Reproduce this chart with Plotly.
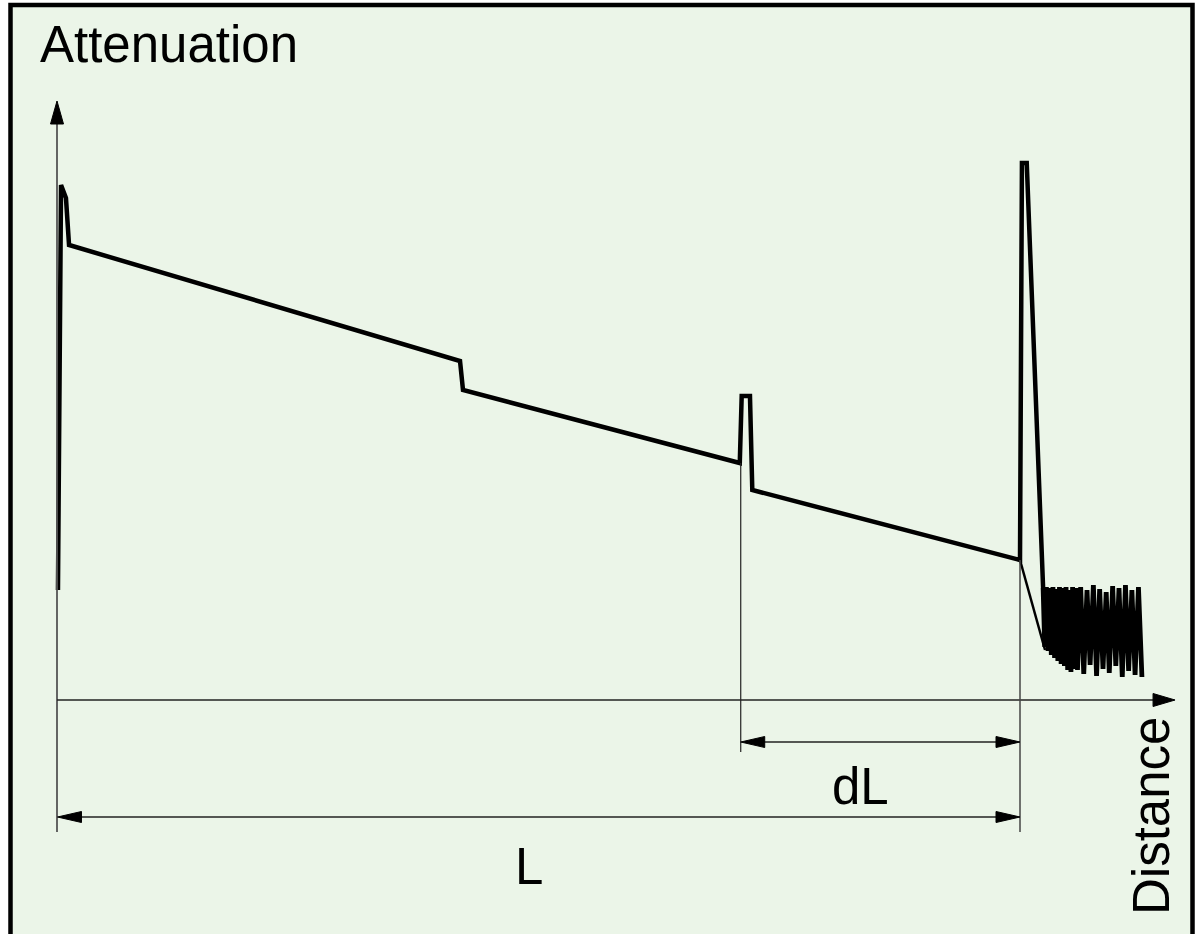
import plotly.graph_objects as go

# ---------------- data (distance in km, attenuation in dB) ----------------
trace_distance = [0.10, 0.42, 0.93, 1.25, 41.85, 42.16, 70.90, 71.10, 71.96, 72.20,
                  100.00, 100.20, 100.70]
trace_atten = [11.0, 51.5, 50.2, 45.5, 33.9, 31.0, 23.7, 30.4, 30.4, 21.0,
               14.0, 53.7, 53.7]

# fall-off line from the fibre end into the noise floor
falloff_distance = [100.0, 102.6]
falloff_atten = [14.0, 5.0]

# noise floor after the fibre end (alternating peaks / troughs)
noise_distance = [102.40, 102.57, 102.74, 102.91, 103.08, 103.25, 103.42, 103.59,
                  103.76, 103.93, 104.10, 104.27, 104.44, 104.61, 104.78, 104.95,
                  105.12, 105.29, 105.46, 105.63, 105.80,
                  105.97, 106.30, 106.62, 106.96, 107.28, 107.62, 107.95, 108.27,
                  108.62, 108.95, 109.27, 109.62, 109.95, 110.28, 110.62, 110.95,
                  111.28, 111.62, 111.95, 112.30, 112.66]
noise_atten = [11.2, 5.3, 11.3, 4.9, 11.2, 4.5, 11.3, 4.2, 11.1, 3.9, 11.3, 3.6,
               11.2, 3.4, 11.3, 3.0, 11.0, 2.8, 11.3, 3.1, 11.2,
               3.0, 11.3, 2.6, 11.0, 3.5, 11.5, 2.4, 11.1, 3.1, 10.8, 2.7, 11.4,
               3.4, 11.2, 2.3, 11.5, 2.9, 11.0, 2.5, 11.3, 2.3]

# key positions
event_distance = 71.0     # reflective event (start of dL)
end_distance = 100.0      # fibre end (L)
x_axis_end = 116.1
y_axis_end = 59.9
dl_level = -4.2
l_level = -11.7
dl_line_bottom = -5.2
l_line_bottom = -13.2

label_attenuation = "Attenuation"
label_distance = "Distance"
label_dl = "dL"
label_l = "L"

# ---------------- layout constants ----------------
W, H = 1195, 934
SX, SY = 9.63, 10.0      # px per data unit
OX, OY = 57.0, 700.0     # px of origin
BG = "#EBF5E8"

fig = go.Figure()
fig.add_trace(go.Scatter(x=trace_distance + noise_distance[:1],
                         y=trace_atten + noise_atten[:1],
                         mode="lines", line=dict(color="black", width=4.5),
                         hoverinfo="skip", showlegend=False))
fig.add_trace(go.Scatter(x=noise_distance, y=noise_atten,
                         mode="lines", line=dict(color="black", width=4.8),
                         hoverinfo="skip", showlegend=False))
fig.add_trace(go.Scatter(x=falloff_distance, y=falloff_atten, mode="lines",
                         line=dict(color="black", width=2.5),
                         hoverinfo="skip", showlegend=False))

shapes = []
# frame
shapes.append(dict(type="rect", xref="paper", yref="paper",
                   x0=10.5 / W, x1=1192.5 / W, y0=-0.05, y1=1 - 5.0 / H,
                   line=dict(color="black", width=4.5), fillcolor=BG, layer="below"))


def line(x0, y0, x1, y1, color="#222", width=1.3):
    shapes.append(dict(type="line", xref="x", yref="y", x0=x0, y0=y0, x1=x1, y1=y1,
                       line=dict(color=color, width=width), layer="above"))


def head(tx, ty, dx, dy, length=22, half=6.5):
    bx_px = -dx * length
    by_px = -dy * length
    px_x, px_y = -dy * half, dx * half
    p1 = (tx, ty)
    p2 = (tx + (bx_px + px_x) / SX, ty + (by_px + px_y) / SY)
    p3 = (tx + (bx_px - px_x) / SX, ty + (by_px - px_y) / SY)
    path = f"M {p1[0]},{p1[1]} L {p2[0]},{p2[1]} L {p3[0]},{p3[1]} Z"
    shapes.append(dict(type="path", xref="x", yref="y", path=path,
                       fillcolor="black", line=dict(color="black", width=1),
                       layer="above"))


# axes
line(0, l_line_bottom, 0, y_axis_end - 1.0, color="#555", width=1.8)
head(0, y_axis_end, 0, 1, length=23, half=6.5)
line(0, 0, x_axis_end - 1.5, 0, color="#222", width=1.3)
head(x_axis_end, 0, 1, 0, length=22, half=6.5)

# reference verticals
line(event_distance, 23.7, event_distance, dl_line_bottom, color="#222", width=1.2)
line(end_distance, 14.0, end_distance, l_line_bottom, color="#444", width=1.5)

# dL dimension
line(event_distance + 1.5, dl_level, end_distance - 1.5, dl_level, color="#222", width=1.3)
head(event_distance, dl_level, -1, 0, length=24, half=5.5)
head(end_distance, dl_level, 1, 0, length=24, half=5.5)
# L dimension
line(1.5, l_level, end_distance - 1.5, l_level, color="#222", width=1.3)
head(0.05, l_level, -1, 0, length=24, half=5.5)
head(end_distance, l_level, 1, 0, length=24, half=5.5)

fnt = dict(family="Liberation Sans, Arial, sans-serif", size=51, color="black")
annotations = [
    dict(text=label_attenuation, xref="paper", yref="paper", x=38 / W, y=1 - 44 / H,
         xanchor="left", yanchor="middle", showarrow=False, font=fnt),
    dict(text=label_distance, xref="paper", yref="paper", x=1151 / W, y=1 - 816 / H,
         xanchor="center", yanchor="middle", textangle=-90, showarrow=False, font=fnt),
    dict(text=label_dl, xref="x", yref="y", x=83.4, y=-8.6, xanchor="center",
         yanchor="middle", showarrow=False, font=fnt),
    dict(text=label_l, xref="x", yref="y", x=49.0, y=-16.6, xanchor="center",
         yanchor="middle", showarrow=False, font=fnt),
]

fig.update_layout(
    width=W, height=H, margin=dict(l=0, r=0, t=0, b=0),
    paper_bgcolor="white", plot_bgcolor="rgba(0,0,0,0)",
    shapes=shapes, annotations=annotations, showlegend=False,
    xaxis=dict(range=[(0 - OX) / SX, (W - OX) / SX], visible=False, fixedrange=True),
    yaxis=dict(range=[(OY - H) / SY, OY / SY], visible=False, fixedrange=True),
)
fig.write_html("out.html", config={"displayModeBar": False},
               post_script="document.body.style.margin='0';")
